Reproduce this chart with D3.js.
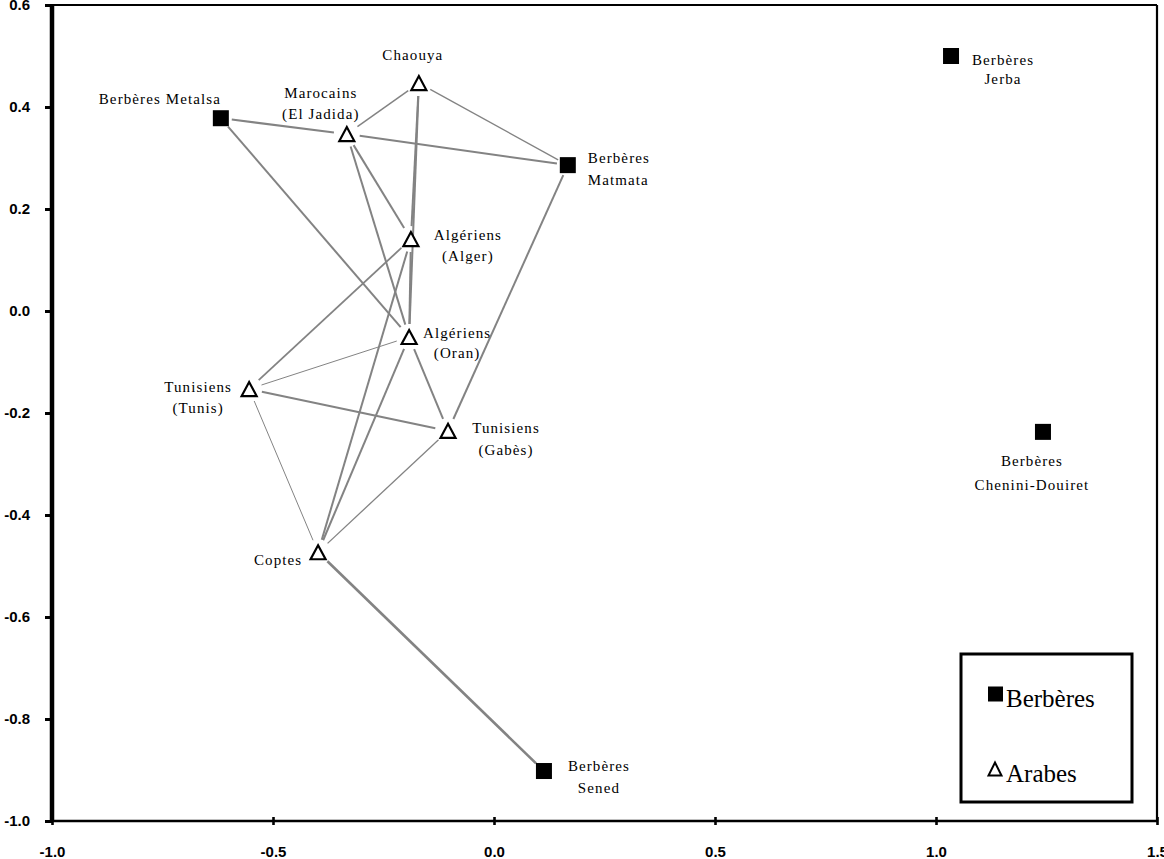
<!DOCTYPE html>
<html>
<head>
<meta charset="utf-8">
<script src="https://cdn.jsdelivr.net/npm/d3@7"></script>
<style>
  html, body { margin: 0; padding: 0; background: #fff; }
  svg { display: block; }
</style>
</head>
<body>
<svg id="chart" width="1164" height="859"></svg>
<script>
// ---------- DATA ----------
const populations = ["Berbères Metalsa", "Chaouya", "Marocains (El Jadida)", "Berbères Matmata",
  "Berbères Jerba", "Algériens (Alger)", "Algériens (Oran)", "Tunisiens (Tunis)",
  "Tunisiens (Gabès)", "Coptes", "Berbères Sened", "Berbères Chenini-Douiret"];
const groups = ["Berbères", "Arabes", "Arabes", "Berbères",
  "Berbères", "Arabes", "Arabes", "Arabes",
  "Arabes", "Arabes", "Berbères", "Berbères"];
const dim1 = [-0.618, -0.170, -0.333, 0.167, 1.034, -0.188, -0.192, -0.554, -0.104, -0.398, 0.113, 1.242];
const dim2 = [0.378, 0.447, 0.347, 0.286, 0.500, 0.141, -0.051, -0.153, -0.235, -0.473, -0.902, -0.237];
const labelLines = [["Berbères Metalsa"], ["Chaouya"], ["Marocains", "(El Jadida)"], ["Berbères", "Matmata"],
  ["Berbères", "Jerba"], ["Algériens", "(Alger)"], ["Algériens", "(Oran)"], ["Tunisiens", "(Tunis)"],
  ["Tunisiens", "(Gabès)"], ["Coptes"], ["Berbères", "Sened"], ["Berbères", "Chenini-Douiret"]];
const links = [
  ["Berbères Metalsa", "Marocains (El Jadida)"],
  ["Berbères Metalsa", "Algériens (Oran)"],
  ["Marocains (El Jadida)", "Chaouya"],
  ["Marocains (El Jadida)", "Berbères Matmata"],
  ["Chaouya", "Berbères Matmata"],
  ["Marocains (El Jadida)", "Algériens (Alger)"],
  ["Marocains (El Jadida)", "Algériens (Oran)"],
  ["Chaouya", "Algériens (Alger)"],
  ["Chaouya", "Algériens (Oran)"],
  ["Algériens (Alger)", "Algériens (Oran)"],
  ["Algériens (Alger)", "Tunisiens (Tunis)"],
  ["Algériens (Alger)", "Coptes"],
  ["Algériens (Oran)", "Tunisiens (Tunis)"],
  ["Algériens (Oran)", "Tunisiens (Gabès)"],
  ["Algériens (Oran)", "Coptes"],
  ["Tunisiens (Tunis)", "Tunisiens (Gabès)"],
  ["Tunisiens (Tunis)", "Coptes"],
  ["Tunisiens (Gabès)", "Coptes"],
  ["Berbères Matmata", "Tunisiens (Gabès)"],
  ["Coptes", "Berbères Sened"]
];
const xTicks = [-1.0, -0.5, 0.0, 0.5, 1.0, 1.5];
const yTicks = [0.6, 0.4, 0.2, 0.0, -0.2, -0.4, -0.6, -0.8, -1.0];
const legendItems = ["Berbères", "Arabes"];

// ---------- LAYOUT / STYLE ----------
const linkWidths = [2, 2, 1.5, 2, 1.3, 2, 2, 2, 2, 2, 1.8, 2, 1, 2, 2, 2, 1, 1.3, 2, 2.6];
const labelLayout = {
  "Berbères Metalsa": {dx: -61, dy: [-14], anchor: "middle"},
  "Chaouya": {dx: -6, dy: [-23], anchor: "middle"},
  "Marocains (El Jadida)": {dx: -26, dy: [-36, -15], anchor: "middle"},
  "Berbères Matmata": {dx: 20, dy: [-2, 20], anchor: "start"},
  "Berbères Jerba": {dx: 52, dy: [9, 28], anchor: "middle"},
  "Algériens (Alger)": {dx: 57, dy: [1, 22], anchor: "middle"},
  "Algériens (Oran)": {dx: 48, dy: [1, 21], anchor: "middle"},
  "Tunisiens (Tunis)": {dx: -51, dy: [3, 24], anchor: "middle"},
  "Tunisiens (Gabès)": {dx: 58, dy: [2, 24], anchor: "middle"},
  "Coptes": {dx: -40, dy: [13], anchor: "middle"},
  "Berbères Sened": {dx: 55, dy: [0, 22], anchor: "middle"},
  "Berbères Chenini-Douiret": {dx: -11, dy: [34, 58], anchor: "middle"}
};

const svg = d3.select("#chart");
const x = d3.scaleLinear().domain([-1, 1.5]).range([52, 1157]);
const y = d3.scaleLinear().domain([-1, 0.6]).range([821, 5]);

const nodes = populations.map((n, i) => ({name: n, group: groups[i], v1: dim1[i], v2: dim2[i], lines: labelLines[i]}));
const byName = new Map(nodes.map(d => [d.name, d]));

// frame: top and right borders
svg.append("line").attr("x1", 52).attr("x2", 1157).attr("y1", 5).attr("y2", 5)
  .attr("stroke", "#000").attr("stroke-width", 2.2);
svg.append("line").attr("x1", 1157).attr("x2", 1157).attr("y1", 5).attr("y2", 821)
  .attr("stroke", "#000").attr("stroke-width", 2.2);

// links
const gap = d => d.group === "Berbères" ? 11 : 13;
svg.append("g").selectAll("line").data(links).join("line")
  .each(function(l, i) {
    const a = byName.get(l[0]), b = byName.get(l[1]);
    const x1 = x(a.v1), y1 = y(a.v2), x2 = x(b.v1), y2 = y(b.v2);
    const len = Math.hypot(x2 - x1, y2 - y1);
    const ux = (x2 - x1) / len, uy = (y2 - y1) / len;
    d3.select(this)
      .attr("x1", x1 + ux * gap(a)).attr("y1", y1 + uy * gap(a))
      .attr("x2", x2 - ux * gap(b)).attr("y2", y2 - uy * gap(b))
      .attr("stroke", "#838383").attr("stroke-width", linkWidths[i]);
  });

// axes
const fmt = v => v.toFixed(1);
const yAxis = svg.append("g").attr("transform", "translate(52,0)")
  .call(d3.axisLeft(y).tickValues(yTicks).tickFormat(fmt).tickSize(7).tickPadding(15));
yAxis.select(".domain").attr("stroke", "#000").attr("stroke-width", 4.5).attr("d", "M0,5V821");
yAxis.selectAll(".tick line").attr("stroke", "#000").attr("stroke-width", 3);
yAxis.selectAll(".tick text").attr("font-family", "Liberation Sans, Arial, sans-serif")
  .attr("font-size", 15).attr("font-weight", "bold").attr("fill", "#000");

const xAxis = svg.append("g").attr("transform", "translate(0,821)")
  .call(d3.axisBottom(x).tickValues(xTicks).tickFormat(fmt).tickSize(4));
xAxis.select(".domain").attr("stroke", "#000").attr("stroke-width", 2.4).attr("d", "M52,0H1157");
xAxis.selectAll(".tick line").attr("stroke", "#000").attr("stroke-width", 2.6).attr("y1", -4).attr("y2", 4);
xAxis.selectAll(".tick text").attr("font-family", "Liberation Sans, Arial, sans-serif")
  .attr("font-size", 15).attr("font-weight", "bold").attr("fill", "#000").attr("y", 25);

// markers
const triPath = (cx, cy, w, h) => `M${cx - w / 2},${cy + h / 2}L${cx + w / 2},${cy + h / 2}L${cx},${cy - h / 2}Z`;
const mk = svg.append("g");
nodes.forEach(d => {
  const cx = x(d.v1), cy = y(d.v2);
  if (d.group === "Berbères") {
    mk.append("rect").attr("x", cx - 8).attr("y", cy - 8).attr("width", 16).attr("height", 16).attr("fill", "#000");
  } else {
    mk.append("path").attr("d", triPath(cx, cy, 15, 14)).attr("fill", "#fff")
      .attr("stroke", "#000").attr("stroke-width", 2.2).attr("stroke-linejoin", "miter");
  }
});

// labels
const lab = svg.append("g").attr("font-family", "Liberation Serif, 'Times New Roman', serif")
  .attr("font-size", 15).attr("fill", "#000").style("letter-spacing", "1.1px");
nodes.forEach(d => {
  const L = labelLayout[d.name];
  const cx = x(d.v1), cy = y(d.v2);
  d.lines.forEach((t, k) => {
    lab.append("text").attr("x", cx + L.dx).attr("y", cy + L.dy[k])
      .attr("text-anchor", L.anchor).text(t);
  });
});

// legend
const lg = svg.append("g");
lg.append("rect").attr("x", 961).attr("y", 654).attr("width", 171).attr("height", 148)
  .attr("fill", "#fff").attr("stroke", "#000").attr("stroke-width", 3);
legendItems.forEach((name, i) => {
  const ly = [694, 769][i];
  if (name === "Berbères") {
    lg.append("rect").attr("x", 988).attr("y", ly - 7.5).attr("width", 15).attr("height", 15).attr("fill", "#000");
  } else {
    lg.append("path").attr("d", triPath(995, ly, 13, 13)).attr("fill", "#fff")
      .attr("stroke", "#000").attr("stroke-width", 2);
  }
  lg.append("text").attr("x", 1006).attr("y", ly + 13)
    .attr("font-family", "Liberation Serif, 'Times New Roman', serif").attr("font-size", 25)
    .attr("fill", "#000").text(name);
});
</script>
</body>
</html>
